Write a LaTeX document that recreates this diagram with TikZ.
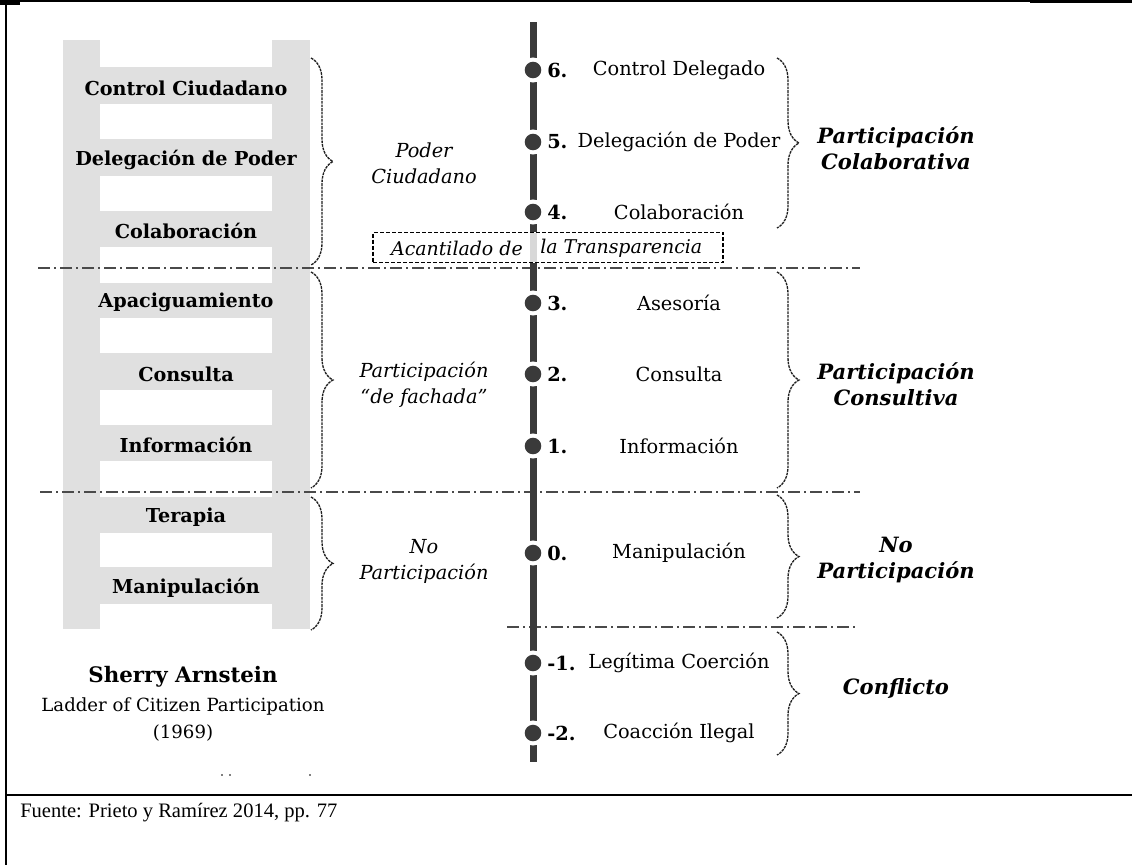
\documentclass[tikz,border=0pt]{standalone}
\usepackage{fontspec}
\setmainfont{DejaVu Serif}
\newfontfamily\timesf{Liberation Serif}
\usetikzlibrary{decorations.pathreplacing}
\definecolor{ladder}{HTML}{E0E0E0}
\definecolor{axis}{HTML}{3A3A3A}
\definecolor{sepc}{HTML}{4A4A4A}
\definecolor{faint}{HTML}{D8D8D8}
\definecolor{brcc}{HTML}{202020}
\begin{document}
\begin{tikzpicture}[x=0.75pt,y=-0.75pt,
 rung/.style={font=\fontsize{14.4}{16}\selectfont\bfseries, inner sep=0pt},
 lab/.style={font=\fontsize{14.5}{17}\selectfont, inner sep=0pt},
 num/.style={font=\fontsize{14.5}{17}\selectfont\bfseries, anchor=west, inner sep=0pt},
 mid/.style={font=\fontsize{14.5}{19.5}\selectfont\itshape, align=center, inner sep=0pt},
 cat/.style={font=\fontsize{15.8}{19.5}\selectfont\bfseries\itshape, align=center, inner sep=0pt},
 sepline/.style={draw=sepc, line width=1.5pt, dash pattern=on 9pt off 3pt on 1.5pt off 3pt},
 brc/.style={draw=brcc, line width=1pt, dash pattern=on 2pt off 0.7pt, decorate, decoration={brace, amplitude=16.5pt}},
 dot/.style={fill=axis},
 halo/.style={fill=white}]
\useasboundingbox (0,0) rectangle (1132,865);
\fill[white] (0,0) rectangle (1132,865);
% frame
\fill (0,0) rectangle (20,5);
\draw[line width=1.2pt] (0,1) -- (1132,1);
\fill (1030,0) rectangle (1132,3);
\draw[line width=1.5pt] (6,0) -- (6,865);
\draw[line width=1.5pt] (6,795) -- (1132,795);
\node[font=\timesf\fontsize{15.4}{18}\selectfont, anchor=base west, inner sep=0pt] (fuente) at (20,817) {Fuente: Prieto y Ramírez 2014, pp. 77};
% ladder
\fill[ladder] (63,40) rectangle (310,629);
\foreach \a/\b in {40/67,104/139,176/211,247/283,318/353,390/425,461/497,533/567,604/629}
  \fill[white] (100,\a) rectangle (272,\b);
\node[rung] (r1) at (186,88) {Control Ciudadano};
\node[rung] (r2) at (186,160) {Delegación de Poder};
\node[rung] (r3) at (186,231) {Colaboración};
\node[rung] (r4) at (186,302) {Apaciguamiento};
\node[rung] (r5) at (186,374) {Consulta};
\node[rung] (r6) at (186,445) {Información};
\node[rung] (r7) at (186,517) {Terapia};
\node[rung] (r8) at (186,588) {Manipulación};
% separators
\draw[sepline] (38,268) -- (860,268);
\draw[sepline] (40,492) -- (860,492);
\draw[sepline] (507,627) -- (858,627);
% axis
\coordinate (atop) at (533,22);
\coordinate (abot) at (533,762);
\draw[axis, line width=5.25pt] (atop) -- (abot);
% transparency box
\node[draw=black, line width=0.8pt, dash pattern=on 3pt off 1.5pt, fill=white, minimum width=262.5pt, minimum height=23pt, inner sep=0pt] (box) at (548,247.5) {};
\draw[faint, line width=5.25pt] (533,233) -- (533,262);
\node[mid, anchor=east, font=\fontsize{14.2}{17}\selectfont\itshape] (acan) at (523,248) {Acantilado de};
\node[mid, anchor=west, font=\fontsize{14.2}{17}\selectfont\itshape] (transp) at (540,248) {la Transparencia};
% dots and labels
\foreach \y/\n/\t/\nm in {70/6./Control Delegado/d6, 142/5./Delegación de Poder/d5, 212/4./Colaboración/d4, 303/3./Asesoría/d3, 374/2./Consulta/d2, 446/1./Información/d1, 553/0./Manipulación/d0, 663/-1./Legítima Coerción/dm1, 733/-2./Coacción Ilegal/dm2}{
  \fill[halo] (533,\y) circle[radius=9.4pt];
  \fill[dot] (533,\y) circle[radius=6.2pt];
  \coordinate (\nm) at (533,\y);
  \node[num] (\nm n) at (547,\y) {\n};
  \node[lab] (\nm t) at (679,\y) {\t};
}
% left braces
\draw[brc] (311,58) -- (311,265);
\draw[brc] (311,272) -- (311,488);
\draw[brc] (311,497) -- (311,630);
% right braces
\draw[brc] (777,58) -- (777,228);
\draw[brc] (777,272) -- (777,488);
\draw[brc] (777,495) -- (777,618);
\draw[brc] (777,632) -- (777,755);
% middle labels
\node[mid] (poder) at (424,163) {Poder\\Ciudadano};
\node[mid] (fach) at (424,385) {Participación\\“de fachada”};
\node[mid] (nop) at (424,561) {No\\Participación};
% right categories
\node[cat] (colab) at (896,148) {Participación\\Colaborativa};
\node[cat] (consul) at (896,384) {Participación\\Consultiva};
\node[cat] (nopart) at (896,560) {No\\Participación};
\node[cat] (confl) at (896,688) {Conflicto};
% author
\node[font=\fontsize{16}{18}\selectfont\bfseries, inner sep=0pt] (sherry) at (183,677) {Sherry Arnstein};
\node[font=\fontsize{13.6}{17}\selectfont, inner sep=0pt] (ladder) at (183,706) {Ladder of Citizen Participation};
\node[font=\fontsize{13.6}{17}\selectfont, inner sep=0pt] (year) at (183,733) {(1969)};
% stray marks
\fill[gray] (221,774) rectangle (222.5,776);
\fill[gray] (229,774) rectangle (230.5,776);
\fill[gray] (309,774) rectangle (310.5,776);
\end{tikzpicture}
\end{document}
